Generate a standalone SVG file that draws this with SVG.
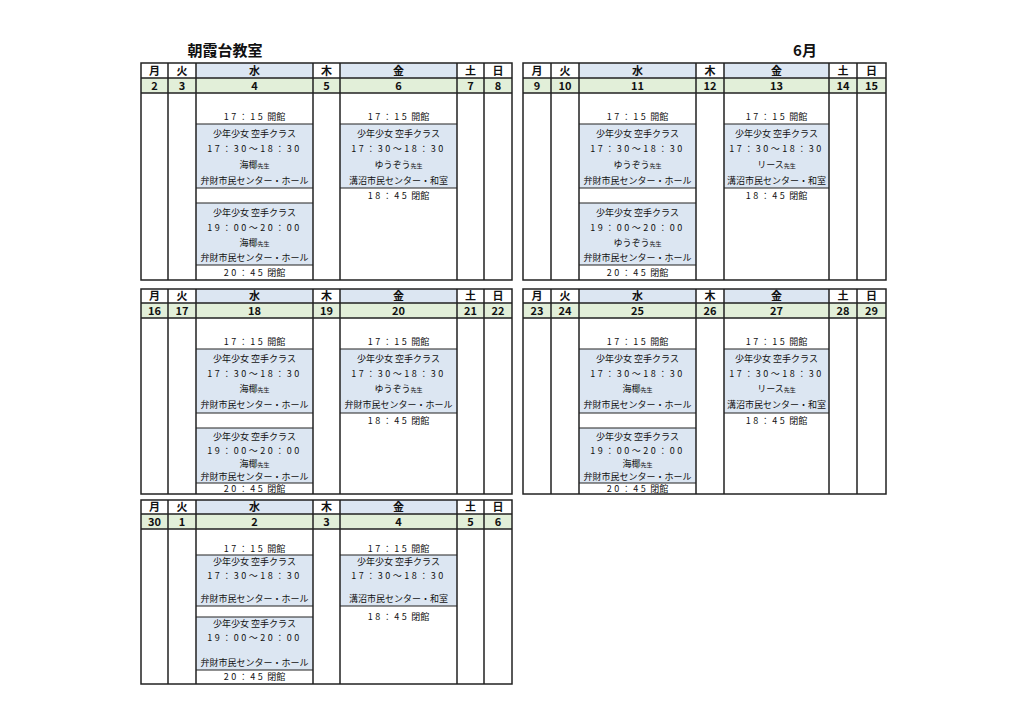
<svg xmlns="http://www.w3.org/2000/svg" width="1024" height="723" viewBox="0 0 1024 723">
<style>
text{font-family:"Noto Sans CJK JP","Noto Sans",sans-serif;text-anchor:middle;fill:#111}
.h{font-size:11px;font-weight:bold}
.t{font-size:9px}
.s{font-size:6px}
.ls{letter-spacing:2.5px}
.hb{fill:#dce6f2}
.dg{fill:#e2efd9}
.ev{fill:#dce6f2}
.ln{stroke:#222;stroke-width:1.5;fill:none}
.tn{stroke:#222;stroke-width:1.2;fill:none}
</style>
<rect width="1024" height="723" fill="#fff"/>
<text x="225" y="56" style="font-size:15px;font-weight:bold">朝霞台教室</text>
<text x="805" y="56" style="font-size:15px;font-weight:bold">6月</text>

<!-- Block 1 -->
<g id="week1">
<rect x="196" y="63" width="117" height="15" class="hb"/><rect x="340" y="63" width="117" height="15" class="hb"/>
<rect x="141" y="78" width="371" height="15" class="dg"/>
<rect x="196" y="124" width="117" height="64" class="ev"/><rect x="196" y="203" width="117" height="62" class="ev"/>
<rect x="340" y="124" width="117" height="64" class="ev"/>
<rect x="141" y="63" width="371" height="217" class="ln"/>
<path class="ln" d="M141 78H512M141 93H512M168 63V280M196 63V280M313 63V280M340 63V280M457 63V280M484 63V280"/>
<path class="tn" d="M196 124H313M196 188H313M196 203H313M196 265H313M340 124H457M340 188H457"/>
<text class="h" x="154.5" y="75">月</text><text class="h" x="182" y="75">火</text><text class="h" x="254.5" y="75">水</text><text class="h" x="326.5" y="75">木</text><text class="h" x="398.5" y="75">金</text><text class="h" x="470.5" y="75">土</text><text class="h" x="498" y="75">日</text>
<text class="h" x="154.5" y="90">2</text><text class="h" x="182" y="90">3</text><text class="h" x="254.5" y="90">4</text><text class="h" x="326.5" y="90">5</text><text class="h" x="398.5" y="90">6</text><text class="h" x="470.5" y="90">7</text><text class="h" x="498" y="90">8</text>
<text class="t" x="254.5" y="120"><tspan class="ls">17：15</tspan> 開館</text>
<text class="t" x="254.5" y="137">少年少女 空手クラス</text><text class="t ls" x="254.5" y="152">17：30～18：30</text><text class="t" x="254.5" y="168">海椰<tspan class="s">先生</tspan></text><text class="t" x="254.5" y="184">弁財市民センター・ホール</text>
<text class="t" x="254.5" y="216">少年少女 空手クラス</text><text class="t ls" x="254.5" y="231">19：00～20：00</text><text class="t" x="254.5" y="246">海椰<tspan class="s">先生</tspan></text><text class="t" x="254.5" y="261">弁財市民センター・ホール</text>
<text class="t" x="254.5" y="276"><tspan class="ls">20：45</tspan> 閉館</text>
<text class="t" x="398.5" y="120"><tspan class="ls">17：15</tspan> 開館</text>
<text class="t" x="398.5" y="137">少年少女 空手クラス</text><text class="t ls" x="398.5" y="152">17：30～18：30</text><text class="t" x="398.5" y="168">ゆうぞう<tspan class="s">先生</tspan></text><text class="t" x="398.5" y="184">溝沼市民センター・和室</text>
<text class="t" x="398.5" y="199"><tspan class="ls">18：45</tspan> 閉館</text>
</g>

<!-- Block 2 -->
<g id="week2">
<rect x="579" y="63" width="117" height="15" class="hb"/><rect x="724" y="63" width="105" height="15" class="hb"/>
<rect x="523" y="78" width="363" height="15" class="dg"/>
<rect x="579" y="124" width="117" height="64" class="ev"/><rect x="579" y="203" width="117" height="62" class="ev"/>
<rect x="724" y="124" width="105" height="64" class="ev"/>
<rect x="523" y="63" width="363" height="217" class="ln"/>
<path class="ln" d="M523 78H886M523 93H886M551 63V280M579 63V280M696 63V280M724 63V280M829 63V280M857 63V280"/>
<path class="tn" d="M579 124H696M579 188H696M579 203H696M579 265H696M724 124H829M724 188H829"/>
<text class="h" x="537" y="75">月</text><text class="h" x="565" y="75">火</text><text class="h" x="637.5" y="75">水</text><text class="h" x="710" y="75">木</text><text class="h" x="776.5" y="75">金</text><text class="h" x="843" y="75">土</text><text class="h" x="871.5" y="75">日</text>
<text class="h" x="537" y="90">9</text><text class="h" x="565" y="90">10</text><text class="h" x="637.5" y="90">11</text><text class="h" x="710" y="90">12</text><text class="h" x="776.5" y="90">13</text><text class="h" x="843" y="90">14</text><text class="h" x="871.5" y="90">15</text>
<text class="t" x="637.5" y="120"><tspan class="ls">17：15</tspan> 開館</text>
<text class="t" x="637.5" y="137">少年少女 空手クラス</text><text class="t ls" x="637.5" y="152">17：30～18：30</text><text class="t" x="637.5" y="168">ゆうぞう<tspan class="s">先生</tspan></text><text class="t" x="637.5" y="184">弁財市民センター・ホール</text>
<text class="t" x="637.5" y="216">少年少女 空手クラス</text><text class="t ls" x="637.5" y="231">19：00～20：00</text><text class="t" x="637.5" y="246">ゆうぞう<tspan class="s">先生</tspan></text><text class="t" x="637.5" y="261">弁財市民センター・ホール</text>
<text class="t" x="637.5" y="276"><tspan class="ls">20：45</tspan> 閉館</text>
<text class="t" x="776.5" y="120"><tspan class="ls">17：15</tspan> 開館</text>
<text class="t" x="776.5" y="137">少年少女 空手クラス</text><text class="t ls" x="776.5" y="152">17：30～18：30</text><text class="t" x="776.5" y="168">リース<tspan class="s">先生</tspan></text><text class="t" x="776.5" y="184">溝沼市民センター・和室</text>
<text class="t" x="776.5" y="199"><tspan class="ls">18：45</tspan> 閉館</text>
</g>

<!-- Block 3 -->
<g id="week3">
<rect x="196" y="289" width="117" height="14" class="hb"/><rect x="340" y="289" width="117" height="14" class="hb"/>
<rect x="141" y="303" width="371" height="15" class="dg"/>
<rect x="196" y="349" width="117" height="64" class="ev"/><rect x="196" y="428" width="117" height="55" class="ev"/>
<rect x="340" y="349" width="117" height="64" class="ev"/>
<rect x="141" y="289" width="371" height="205" class="ln"/>
<path class="ln" d="M141 303H512M141 318H512M168 289V494M196 289V494M313 289V494M340 289V494M457 289V494M484 289V494"/>
<path class="tn" d="M196 349H313M196 413H313M196 428H313M196 483H313M340 349H457M340 413H457"/>
<text class="h" x="154.5" y="300">月</text><text class="h" x="182" y="300">火</text><text class="h" x="254.5" y="300">水</text><text class="h" x="326.5" y="300">木</text><text class="h" x="398.5" y="300">金</text><text class="h" x="470.5" y="300">土</text><text class="h" x="498" y="300">日</text>
<text class="h" x="154.5" y="315">16</text><text class="h" x="182" y="315">17</text><text class="h" x="254.5" y="315">18</text><text class="h" x="326.5" y="315">19</text><text class="h" x="398.5" y="315">20</text><text class="h" x="470.5" y="315">21</text><text class="h" x="498" y="315">22</text>
<text class="t" x="254.5" y="345"><tspan class="ls">17：15</tspan> 開館</text>
<text class="t" x="254.5" y="362">少年少女 空手クラス</text><text class="t ls" x="254.5" y="377">17：30～18：30</text><text class="t" x="254.5" y="392">海椰<tspan class="s">先生</tspan></text><text class="t" x="254.5" y="408">弁財市民センター・ホール</text>
<text class="t" x="254.5" y="440">少年少女 空手クラス</text><text class="t ls" x="254.5" y="454">19：00～20：00</text><text class="t" x="254.5" y="467">海椰<tspan class="s">先生</tspan></text><text class="t" x="254.5" y="480">弁財市民センター・ホール</text>
<text class="t" x="254.5" y="492"><tspan class="ls">20：45</tspan> 閉館</text>
<text class="t" x="398.5" y="345"><tspan class="ls">17：15</tspan> 開館</text>
<text class="t" x="398.5" y="362">少年少女 空手クラス</text><text class="t ls" x="398.5" y="377">17：30～18：30</text><text class="t" x="398.5" y="392">ゆうぞう<tspan class="s">先生</tspan></text><text class="t" x="398.5" y="408">弁財市民センター・ホール</text>
<text class="t" x="398.5" y="424"><tspan class="ls">18：45</tspan> 閉館</text>
</g>

<!-- Block 4 -->
<g id="week4">
<rect x="579" y="289" width="117" height="14" class="hb"/><rect x="724" y="289" width="105" height="14" class="hb"/>
<rect x="523" y="303" width="363" height="15" class="dg"/>
<rect x="579" y="349" width="117" height="64" class="ev"/><rect x="579" y="428" width="117" height="55" class="ev"/>
<rect x="724" y="349" width="105" height="64" class="ev"/>
<rect x="523" y="289" width="363" height="205" class="ln"/>
<path class="ln" d="M523 303H886M523 318H886M551 289V494M579 289V494M696 289V494M724 289V494M829 289V494M857 289V494"/>
<path class="tn" d="M579 349H696M579 413H696M579 428H696M579 483H696M724 349H829M724 413H829"/>
<text class="h" x="537" y="300">月</text><text class="h" x="565" y="300">火</text><text class="h" x="637.5" y="300">水</text><text class="h" x="710" y="300">木</text><text class="h" x="776.5" y="300">金</text><text class="h" x="843" y="300">土</text><text class="h" x="871.5" y="300">日</text>
<text class="h" x="537" y="315">23</text><text class="h" x="565" y="315">24</text><text class="h" x="637.5" y="315">25</text><text class="h" x="710" y="315">26</text><text class="h" x="776.5" y="315">27</text><text class="h" x="843" y="315">28</text><text class="h" x="871.5" y="315">29</text>
<text class="t" x="637.5" y="345"><tspan class="ls">17：15</tspan> 開館</text>
<text class="t" x="637.5" y="362">少年少女 空手クラス</text><text class="t ls" x="637.5" y="377">17：30～18：30</text><text class="t" x="637.5" y="392">海椰<tspan class="s">先生</tspan></text><text class="t" x="637.5" y="408">弁財市民センター・ホール</text>
<text class="t" x="637.5" y="440">少年少女 空手クラス</text><text class="t ls" x="637.5" y="454">19：00～20：00</text><text class="t" x="637.5" y="467">海椰<tspan class="s">先生</tspan></text><text class="t" x="637.5" y="480">弁財市民センター・ホール</text>
<text class="t" x="637.5" y="492"><tspan class="ls">20：45</tspan> 閉館</text>
<text class="t" x="776.5" y="345"><tspan class="ls">17：15</tspan> 開館</text>
<text class="t" x="776.5" y="362">少年少女 空手クラス</text><text class="t ls" x="776.5" y="377">17：30～18：30</text><text class="t" x="776.5" y="392">リース<tspan class="s">先生</tspan></text><text class="t" x="776.5" y="408">溝沼市民センター・和室</text>
<text class="t" x="776.5" y="424"><tspan class="ls">18：45</tspan> 閉館</text>
</g>

<!-- Block 5 -->
<g id="week5">
<rect x="196" y="500" width="117" height="14" class="hb"/><rect x="340" y="500" width="117" height="14" class="hb"/>
<rect x="141" y="514" width="371" height="15" class="dg"/>
<rect x="196" y="555" width="117" height="51" class="ev"/><rect x="196" y="617" width="117" height="53" class="ev"/>
<rect x="340" y="555" width="117" height="51" class="ev"/>
<rect x="141" y="500" width="371" height="184" class="ln"/>
<path class="ln" d="M141 514H512M141 529H512M168 500V684M196 500V684M313 500V684M340 500V684M457 500V684M484 500V684"/>
<path class="tn" d="M196 555H313M196 606H313M196 617H313M196 670H313M340 555H457M340 606H457"/>
<text class="h" x="154.5" y="511">月</text><text class="h" x="182" y="511">火</text><text class="h" x="254.5" y="511">水</text><text class="h" x="326.5" y="511">木</text><text class="h" x="398.5" y="511">金</text><text class="h" x="470.5" y="511">土</text><text class="h" x="498" y="511">日</text>
<text class="h" x="154.5" y="526">30</text><text class="h" x="182" y="526">1</text><text class="h" x="254.5" y="526">2</text><text class="h" x="326.5" y="526">3</text><text class="h" x="398.5" y="526">4</text><text class="h" x="470.5" y="526">5</text><text class="h" x="498" y="526">6</text>
<text class="t" x="254.5" y="552"><tspan class="ls">17：15</tspan> 開館</text>
<text class="t" x="254.5" y="565">少年少女 空手クラス</text><text class="t ls" x="254.5" y="579">17：30～18：30</text><text class="t" x="254.5" y="602">弁財市民センター・ホール</text>
<text class="t" x="254.5" y="627">少年少女 空手クラス</text><text class="t ls" x="254.5" y="641">19：00～20：00</text><text class="t" x="254.5" y="666">弁財市民センター・ホール</text>
<text class="t" x="254.5" y="680"><tspan class="ls">20：45</tspan> 閉館</text>
<text class="t" x="398.5" y="552"><tspan class="ls">17：15</tspan> 開館</text>
<text class="t" x="398.5" y="565">少年少女 空手クラス</text><text class="t ls" x="398.5" y="579">17：30～18：30</text><text class="t" x="398.5" y="602">溝沼市民センター・和室</text>
<text class="t" x="398.5" y="620"><tspan class="ls">18：45</tspan> 閉館</text>
</g>
</svg>
